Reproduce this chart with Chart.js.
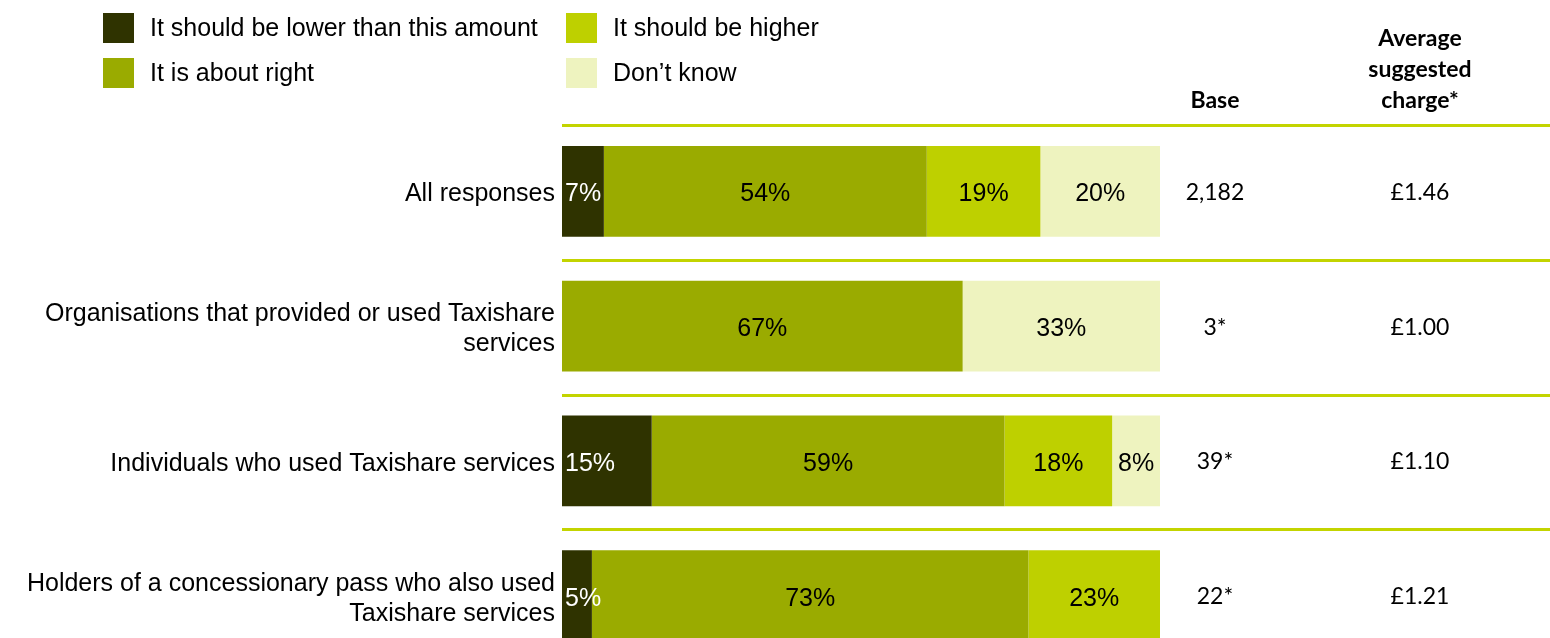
<!DOCTYPE html>
<html>
<head>
<meta charset="utf-8">
<script src="https://cdn.jsdelivr.net/npm/chart.js@4.4.1/dist/chart.umd.min.js"></script>
<style>
  html, body { margin: 0; padding: 0; background: #fff; overflow: hidden; }
  canvas { display: block; }
</style>
</head>
<body>
<canvas id="taxiChart" width="1550" height="685"></canvas>
<script>
"use strict";

// categories (multi-line labels as arrays)
const categories = [
    ['All responses'],
    ['Organisations that provided or used Taxishare', 'services'],
    ['Individuals who used Taxishare services'],
    ['Holders of a concessionary pass who also used', 'Taxishare services']
];

// share of responses, %
const lowerValues = [7, 0, 15, 5];
const aboutRightValues = [54, 67, 59, 73];
const higherValues = [19, 0, 18, 23];
const dontKnowValues = [20, 33, 8, 0];

// right-hand table columns
const baseCounts = ['2,182', '3*', '39*', '22*'];
const avgCharges = ['£1.46', '£1.00', '£1.10', '£1.21'];
const baseHeader = ['Base'];
const chargeHeader = ['Average', 'suggested', 'charge*'];

const seriesNames = [
    'It should be lower than this amount',
    'It is about right',
    'It should be higher',
    'Don\u2019t know'
];
const seriesColors = ['#2f3300', '#9aab00', '#bed000', '#eef3bf'];
const labelColors = ['#ffffff', '#000000', '#000000', '#000000'];
const lineColor = '#c3d400';

const arial = '"Liberation Sans", Arial, sans-serif';
const tableFont = 'Lato, "Open Sans", sans-serif';

Chart.defaults.color = '#000';
Chart.defaults.font.family = arial;

// segment labels, drawn at the middle of each bar piece
const segmentLabels = {
    id: 'segmentLabels',
    afterDatasetsDraw(chart) {
        const c = chart.ctx;
        c.save();
        c.font = '25px ' + arial;
        c.textBaseline = 'middle';
        chart.data.datasets.forEach((ds, i) => {
            const meta = chart.getDatasetMeta(i);
            meta.data.forEach((bar, j) => {
                const v = ds.data[j];
                if (!v) return;
                const txt = v + '%';
                c.fillStyle = labelColors[i];
                const left = Math.min(bar.x, bar.base);
                const right = Math.min(Math.max(bar.x, bar.base), chart.chartArea.right);
                if (i === 0) {
                    c.textAlign = 'left';
                    c.fillText(txt, left + 3, bar.y + 3);
                } else {
                    c.textAlign = 'center';
                    c.fillText(txt, (left + right) / 2, bar.y + 3);
                }
            });
        });
        c.restore();
    }
};

// separators, table columns and legend
const extras = {
    id: 'extras',
    afterDraw(chart) {
        const c = chart.ctx;
        const yScale = chart.scales.y;
        const area = chart.chartArea;
        const band = (yScale.bottom - yScale.top) / categories.length;
        c.save();

        // green rules above each row
        c.strokeStyle = lineColor;
        c.lineWidth = 3;
        categories.forEach((cat, i) => {
            const y = Math.round(yScale.getPixelForValue(i) - band / 2) + 1.5;
            c.beginPath();
            c.moveTo(area.left, y);
            c.lineTo(chart.width, y);
            c.stroke();
        });

        // table
        const baseX = 1215;
        const chargeX = 1420;
        c.fillStyle = '#000';
        c.textAlign = 'center';
        c.textBaseline = 'middle';
        c.font = 'bold 23px ' + tableFont;
        c.fillText(baseHeader[0], baseX, 101);
        chargeHeader.forEach((t, k) => c.fillText(t, chargeX, 39 + k * 31));
        c.font = '23px ' + tableFont;
        categories.forEach((cat, i) => {
            const y = yScale.getPixelForValue(i) + 1;
            c.fillText(baseCounts[i], baseX, y);
            c.fillText(avgCharges[i], chargeX, y);
        });

        // legend in two columns
        const order = [0, 2, 1, 3];
        const colX = [103, 566];
        const rowY = [13, 58];
        c.font = '25px ' + arial;
        c.textAlign = 'left';
        order.forEach((s, k) => {
            const col = k % 2;
            const row = Math.floor(k / 2);
            c.fillStyle = chart.data.datasets[s].backgroundColor;
            c.fillRect(colX[col], rowY[row], 31, 30);
            c.fillStyle = '#000';
            c.fillText(chart.data.datasets[s].label, colX[col] + 47, rowY[row] + 16);
        });

        c.restore();
    }
};

const seriesData = [lowerValues, aboutRightValues, higherValues, dontKnowValues];

const ctx = document.getElementById('taxiChart').getContext('2d');
const taxiChart = new Chart(ctx, {
    type: 'bar',
    data: {
        labels: categories,
        datasets: seriesData.map((vals, i) => ({
            label: seriesNames[i],
            data: vals,
            backgroundColor: seriesColors[i],
            borderWidth: 0,
            categoryPercentage: 1,
            barPercentage: 0.675
        }))
    },
    options: {
        indexAxis: 'y',
        responsive: false,
        animation: false,
        layout: {
            padding: { top: 124, right: 390, bottom: 2, left: 0 }
        },
        plugins: {
            legend: { display: false },
            tooltip: { enabled: false }
        },
        scales: {
            x: {
                stacked: true,
                min: 0,
                max: 100,
                display: false
            },
            y: {
                stacked: true,
                grid: { display: false, drawTicks: false },
                border: { display: false },
                ticks: {
                    padding: 7,
                    labelOffset: 3,
                    color: '#000',
                    font: { size: 25, lineHeight: 1.2 }
                },
                afterFit(scale) {
                    scale.width = 562;
                }
            }
        }
    },
    plugins: [segmentLabels, extras]
});
</script>
</body>
</html>
